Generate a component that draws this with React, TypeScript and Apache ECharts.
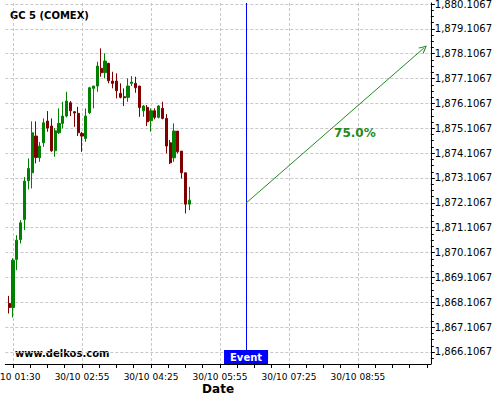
import React, { useEffect, useRef } from "react";
import * as echarts from "echarts";

// ---- data ----
const CANDLE_X = [-1, 0, 1, 2, 3, 4, 5, 6, 7, 8, 9, 10, 11, 12, 13, 14, 15, 16, 17, 18, 19, 20, 21, 22, 23, 24, 25, 26, 27, 28, 29, 30, 31, 32, 33, 34, 35, 36, 37, 38, 39, 40, 41, 42, 43, 44, 45, 46];
const OPEN = [1868.058, 1867.897, 1869.829, 1870.634, 1871.439, 1872.993, 1873.316, 1874.793, 1873.919, 1874.523, 1875.397, 1875.195, 1874.201, 1874.926, 1875.304, 1875.598, 1876.133, 1875.771, 1875.707, 1874.901, 1874.700, 1875.731, 1876.713, 1876.806, 1877.518, 1877.341, 1877.719, 1877.007, 1877.007, 1876.512, 1876.375, 1876.351, 1876.914, 1876.914, 1876.806, 1875.811, 1875.948, 1875.409, 1875.811, 1875.546, 1875.908, 1875.505, 1874.523, 1873.919, 1874.994, 1874.189, 1873.316, 1872.055];
const CLOSE = [1867.897, 1869.801, 1870.606, 1871.303, 1872.981, 1873.493, 1874.926, 1873.935, 1874.390, 1875.328, 1875.115, 1874.201, 1875.006, 1875.304, 1875.598, 1876.202, 1875.811, 1875.719, 1874.926, 1874.793, 1875.598, 1876.737, 1876.806, 1877.611, 1877.341, 1877.812, 1877.019, 1876.914, 1876.617, 1876.351, 1876.335, 1876.806, 1876.967, 1876.737, 1875.940, 1876.001, 1875.369, 1875.811, 1875.546, 1876.001, 1875.505, 1874.390, 1873.718, 1874.994, 1874.161, 1873.316, 1872.055, 1872.216];
const LOW = [1867.655, 1867.494, 1869.398, 1870.473, 1871.009, 1872.647, 1872.688, 1873.694, 1873.758, 1874.362, 1874.966, 1874.161, 1873.959, 1874.873, 1875.103, 1875.546, 1875.598, 1875.167, 1874.793, 1874.161, 1874.563, 1875.678, 1875.908, 1876.576, 1877.180, 1877.116, 1876.914, 1876.713, 1876.310, 1876.310, 1876.001, 1876.174, 1876.806, 1876.536, 1875.570, 1875.570, 1875.195, 1874.966, 1875.465, 1875.505, 1875.465, 1874.096, 1873.666, 1873.758, 1874.096, 1873.090, 1871.681, 1871.814];
const HIGH = [1868.364, 1869.881, 1870.807, 1871.411, 1873.142, 1873.895, 1875.385, 1875.385, 1874.551, 1875.505, 1875.799, 1875.505, 1875.115, 1875.908, 1876.174, 1876.576, 1876.202, 1875.799, 1875.972, 1874.966, 1875.908, 1876.777, 1876.806, 1877.784, 1878.323, 1878.122, 1877.744, 1877.381, 1877.317, 1876.914, 1876.713, 1877.116, 1877.208, 1877.180, 1876.806, 1876.041, 1876.041, 1875.908, 1875.908, 1876.041, 1876.174, 1875.678, 1874.632, 1875.304, 1874.994, 1874.189, 1873.316, 1872.752];

const X_MAJOR = [0, 18, 36, 54, 72, 90];
const X_LABELS = ["30/10 01:30", "30/10 02:55", "30/10 04:25", "30/10 05:55", "30/10 07:25", "30/10 08:55"];
const Y_MAJOR = [1866.1067, 1867.1067, 1868.1067, 1869.1067, 1870.1067, 1871.1067, 1872.1067, 1873.1067, 1874.1067, 1875.1067, 1876.1067, 1877.1067, 1878.1067, 1879.1067, 1880.1067];

const EVENT_X = 60.8;
const EVENT_TEXT = "Event";
const ARROW_START = [60.8, 1872.096];
const ARROW_END = [107.2, 1878.335];
const PCT_TEXT = "75.0%";
const PCT_POS = [89.2, 1874.91];

const TITLE = "GC 5 (COMEX)";
const WATERMARK = "www.delkos.com";
const X_NAME = "Date";

const X_MIN = -2;
const X_MAX = 109;
const Y_MIN = 1865.6236;
const Y_MAX = 1880.147;

const UP = "#008000";
const DOWN = "#800000";
const GREEN = "#228b22";
const BLUE = "#0000ff";
const FONT = "DejaVu Sans";

export default function App() {
  const ref = useRef<HTMLDivElement>(null);
  useEffect(() => {
    if (!ref.current) return;
    const chart = echarts.init(ref.current, undefined, { renderer: "svg" });

    const xMinor: number[] = [];
    for (let v = 0; v <= X_MAX; v += 4.5) xMinor.push(v);
    const yMinor: number[] = [];
    for (let k = 0; k < Y_MAJOR.length - 1; k++) {
      for (let j = 1; j < 4; j++) yMinor.push(Y_MAJOR[k] + j * 0.25);
    }
    yMinor.push(Y_MAJOR[0] - 0.25);

    const candles = CANDLE_X.map((x, i) => [x, OPEN[i], CLOSE[i], LOW[i], HIGH[i]]);
    const grid = { left: 5.33, right: 69.2, top: 3, bottom: 36, outerBoundsMode: "none" };
    const dashed = { type: [3, 2], color: "#c8c8c8", width: 1 };
    const fmtY = (v: number) =>
      v.toLocaleString("en-US", { minimumFractionDigits: 4, maximumFractionDigits: 4 });
    const fmtX = (v: number) => {
      let best = 0;
      X_MAJOR.forEach((m, i) => {
        if (Math.abs(m - v) < Math.abs(X_MAJOR[best] - v)) best = i;
      });
      return X_LABELS[best];
    };

    chart.setOption({
      animation: false,
      backgroundColor: "#ffffff",
      textStyle: { fontFamily: FONT },
      grid,
      xAxis: [
        {
          type: "value",
          min: X_MIN,
          max: X_MAX,
          position: "bottom",
          axisLine: { show: true, onZero: false, lineStyle: { color: "#000", width: 1 } },
          axisTick: { show: true, customValues: xMinor, length: 4, lineStyle: { color: "#000" } },
          axisLabel: { show: false },
          splitLine: { show: false },
          name: X_NAME,
          nameLocation: "middle",
          nameGap: 19,
          nameTextStyle: { fontWeight: "bold", fontSize: 12, color: "#000", fontFamily: FONT },
        },
        {
          type: "value",
          min: X_MIN,
          max: X_MAX,
          position: "bottom",
          axisLine: { show: false, onZero: false },
          axisTick: { show: false, customValues: X_MAJOR },
          axisLabel: {
            show: true,
            customValues: X_MAJOR,
            formatter: fmtX,
            margin: 8,
            fontSize: 9,
            color: "#000",
            fontFamily: FONT,
          },
          splitLine: { show: true, lineStyle: dashed },
        },
      ],
      yAxis: [
        {
          type: "value",
          min: Y_MIN,
          max: Y_MAX,
          position: "right",
          axisLine: { show: true, onZero: false, lineStyle: { color: "#000", width: 1 } },
          axisTick: { show: true, customValues: Y_MAJOR, length: 4, lineStyle: { color: "#000" } },
          axisLabel: {
            show: true,
            customValues: Y_MAJOR,
            formatter: fmtY,
            margin: 4,
            fontSize: 10,
            color: "#000",
            fontFamily: FONT,
          },
          splitLine: { show: true, lineStyle: dashed },
        },
        {
          type: "value",
          min: Y_MIN,
          max: Y_MAX,
          position: "right",
          axisLine: { show: false, onZero: false },
          axisTick: { show: true, customValues: yMinor, length: 3, lineStyle: { color: "#000" } },
          axisLabel: { show: false },
          splitLine: { show: false },
        },
      ],
      graphic: [
        {
          type: "text",
          left: 10,
          top: 10,
          style: { text: TITLE, fontSize: 10, fontWeight: "bold", fontFamily: FONT, fill: "#000" },
        },
        {
          type: "text",
          left: 15,
          top: 348,
          style: { text: WATERMARK, fontSize: 10, fontWeight: "bold", fontFamily: FONT, fill: "#000" },
        },
      ],
      series: [
        {
          type: "candlestick",
          xAxisIndex: 0,
          yAxisIndex: 0,
          data: candles,
          encode: { x: 0, y: [1, 2, 3, 4] },
          barWidth: 2.6,
          itemStyle: { color: UP, color0: DOWN, borderColor: UP, borderColor0: DOWN, borderWidth: 1 },
          markLine: {
            silent: true,
            symbol: "none",
            label: { show: false },
            lineStyle: { color: BLUE, width: 1, type: "solid", opacity: 1 },
            data: [{ xAxis: EVENT_X }],
          },
          z: 3,
        },
        {
          type: "scatter",
          xAxisIndex: 0,
          yAxisIndex: 0,
          symbolSize: 0,
          itemStyle: { opacity: 1 },
          data: [[EVENT_X, Y_MIN]],
          label: {
            show: true,
            position: "top",
            distance: 0,
            formatter: EVENT_TEXT,
            color: "#fff",
            opacity: 1,
            fontWeight: "bold",
            fontSize: 10,
            lineHeight: 12,
            fontFamily: FONT,
            backgroundColor: BLUE,
            padding: [1, 6, 1, 6],
          },
          z: 5,
        },
        {
          type: "scatter",
          xAxisIndex: 0,
          yAxisIndex: 0,
          symbolSize: 0,
          itemStyle: { opacity: 1 },
          data: [PCT_POS],
          label: {
            show: true,
            position: "inside",
            formatter: PCT_TEXT,
            color: GREEN,
            opacity: 1,
            fontWeight: "bold",
            fontSize: 12,
            fontFamily: FONT,
          },
          markLine: {
            silent: true,
            symbol: ["none", "path://M0,10 L5,0 L10,10 L8.6,10 L5,2.8 L1.4,10 Z"],
            symbolSize: 8,
            label: { show: false },
            lineStyle: { color: GREEN, width: 1, type: "solid", opacity: 1 },
            data: [[{ coord: ARROW_START }, { coord: ARROW_END }]],
          },
          z: 4,
        },
      ],
    });
    return () => chart.dispose();
  }, []);
  return (
    <div
      ref={ref}
      style={{ position: "absolute", left: 0, top: 0, width: 500, height: 400, background: "#fff" }}
    />
  );
}
